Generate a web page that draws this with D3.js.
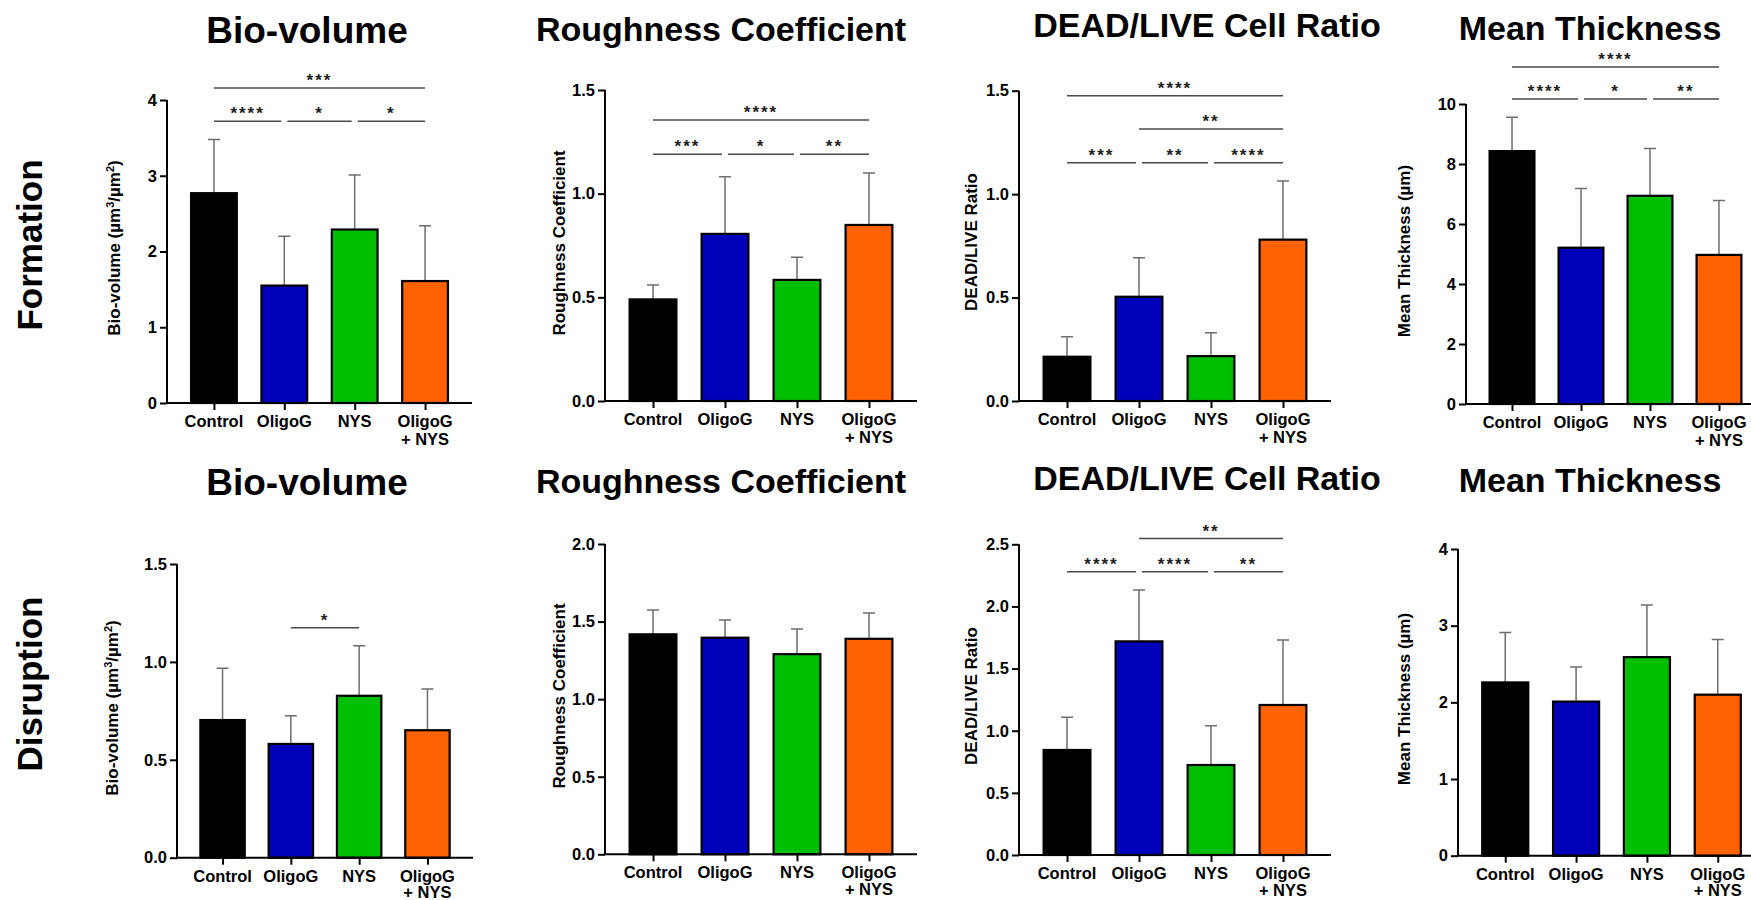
<!DOCTYPE html>
<html>
<head>
<meta charset="utf-8">
<script src="https://cdn.jsdelivr.net/npm/d3@7/dist/d3.min.js"></script>
<style>
  body { margin: 0; background: #fff; }
  svg text { font-family: "Liberation Sans", Arial, Helvetica, sans-serif; font-weight: bold; }
</style>
</head>
<body>
<div id="chart"></div>
<script>
// groups / colours
const groups = ['Control', 'OligoG', 'NYS', 'OligoG + NYS'];
const groupColors = ['#000000', '#0000bb', '#00bf00', '#ff6200'];

// Formation (mean, SD)
const bioFormMean = [2.77, 1.55, 2.29, 1.61];
const bioFormSd = [0.71, 0.65, 0.72, 0.73];
const roughFormMean = [0.49, 0.806, 0.584, 0.849];
const roughFormSd = [0.07, 0.276, 0.109, 0.251];
const deadFormMean = [0.214, 0.504, 0.217, 0.78];
const deadFormSd = [0.096, 0.189, 0.113, 0.283];
const thickFormMean = [8.43, 5.21, 6.94, 4.97];
const thickFormSd = [1.13, 1.97, 1.58, 1.81];

// Disruption
const bioDisMean = [0.703, 0.581, 0.827, 0.651];
const bioDisSd = [0.264, 0.144, 0.256, 0.211];
const roughDisMean = [1.418, 1.396, 1.29, 1.389];
const roughDisSd = [0.156, 0.114, 0.162, 0.166];
const deadDisMean = [0.845, 1.719, 0.724, 1.207];
const deadDisSd = [0.263, 0.413, 0.316, 0.523];
const thickDisMean = [2.26, 2.01, 2.59, 2.10];
const thickDisSd = [0.65, 0.45, 0.68, 0.72];

// significance brackets: [from group, to group, stars, height in data units]
const bioFormSig = [[0, 1, '****', 3.72], [1, 2, '*', 3.72], [2, 3, '*', 3.72], [0, 3, '***', 4.16]];
const roughFormSig = [[0, 1, '***', 1.19], [1, 2, '*', 1.19], [2, 3, '**', 1.19], [0, 3, '****', 1.355]];
const deadFormSig = [[0, 1, '***', 1.152], [1, 2, '**', 1.152], [2, 3, '****', 1.152], [1, 3, '**', 1.315], [0, 3, '****', 1.476]];
const thickFormSig = [[0, 1, '****', 10.17], [1, 2, '*', 10.17], [2, 3, '**', 10.17], [0, 3, '****', 11.23]];
const bioDisSig = [[1, 2, '*', 1.175]];
const roughDisSig = [];
const deadDisSig = [[0, 1, '****', 2.279], [1, 2, '****', 2.279], [2, 3, '**', 2.279], [1, 3, '**', 2.546]];
const thickDisSig = [];

// y tick values
const ticksBio4 = [0, 1, 2, 3, 4];
const ticks15 = [0, 0.5, 1.0, 1.5];
const ticks10 = [0, 2, 4, 6, 8, 10];
const ticks20 = [0, 0.5, 1.0, 1.5, 2.0];
const ticks25 = [0, 0.5, 1.0, 1.5, 2.0, 2.5];

const rowLabels = ['Formation', 'Disruption'];

// panel layout
const panels = [
  { title: 'Bio-volume', tSize: 37, tx: 307, ty: 43, ylab: 'bio', lx: 120, ly: 248,
    x0: 167, x1: 472, yTop: 100, y0: 403, ymax: 4, ticks: ticksBio4, fmt: 'd',
    mean: bioFormMean, sd: bioFormSd, sig: bioFormSig },
  { title: 'Roughness Coefficient', tSize: 34, tx: 721, ty: 41, ylab: 'Roughness Coefficient', lx: 565, ly: 243,
    x0: 605, x1: 917, yTop: 90, y0: 401, ymax: 1.5, ticks: ticks15, fmt: '.1f',
    mean: roughFormMean, sd: roughFormSd, sig: roughFormSig },
  { title: 'DEAD/LIVE Cell Ratio', tSize: 34, tx: 1207, ty: 37, ylab: 'DEAD/LIVE Ratio', lx: 977, ly: 242,
    x0: 1019, x1: 1331, yTop: 90.7, y0: 401, ymax: 1.5, ticks: ticks15, fmt: '.1f',
    mean: deadFormMean, sd: deadFormSd, sig: deadFormSig },
  { title: 'Mean Thickness', tSize: 34, tx: 1590, ty: 40, ylab: 'Mean Thickness (µm)', lx: 1410, ly: 251,
    x0: 1466, x1: 1765, yTop: 104, y0: 404, ymax: 10, ticks: ticks10, fmt: 'd',
    mean: thickFormMean, sd: thickFormSd, sig: thickFormSig },
  { title: 'Bio-volume', tSize: 37, tx: 307, ty: 495, ylab: 'bio', lx: 118, ly: 708,
    x0: 177, x1: 473, yTop: 564, y0: 857.7, ymax: 1.5, ticks: ticks15, fmt: '.1f',
    mean: bioDisMean, sd: bioDisSd, sig: bioDisSig },
  { title: 'Roughness Coefficient', tSize: 34, tx: 721, ty: 493, ylab: 'Roughness Coefficient', lx: 565, ly: 696,
    x0: 605, x1: 917, yTop: 544, y0: 854.3, ymax: 2, ticks: ticks20, fmt: '.1f',
    mean: roughDisMean, sd: roughDisSd, sig: roughDisSig },
  { title: 'DEAD/LIVE Cell Ratio', tSize: 34, tx: 1207, ty: 490, ylab: 'DEAD/LIVE Ratio', lx: 977, ly: 696,
    x0: 1019, x1: 1331, yTop: 544.3, y0: 855, ymax: 2.5, ticks: ticks25, fmt: '.1f',
    mean: deadDisMean, sd: deadDisSd, sig: deadDisSig },
  { title: 'Mean Thickness', tSize: 34, tx: 1590, ty: 492, ylab: 'Mean Thickness (µm)', lx: 1410, ly: 699,
    x0: 1458, x1: 1765, yTop: 549, y0: 855.7, ymax: 4, ticks: ticksBio4, fmt: 'd',
    mean: thickDisMean, sd: thickDisSd, sig: thickDisSig }
];

const svg = d3.select('#chart').append('svg')
  .attr('width', 1751)
  .attr('height', 900);

// row labels
svg.selectAll('.row-label')
  .data(rowLabels)
  .enter()
  .append('text')
  .attr('class', 'row-label')
  .attr('transform', (d, i) => `translate(42, ${i === 0 ? 245 : 684}) rotate(-90)`)
  .attr('text-anchor', 'middle')
  .style('font-size', '35px')
  .text(d => d);

panels.forEach(function(p) {
  const g = svg.append('g');

  const x = d3.scalePoint().domain(groups).range([p.x0, p.x1]).padding(0.667);
  const y = d3.scaleLinear().domain([0, p.ymax]).range([p.y0, p.yTop]);
  const bw = x.step() * 0.65;

  const rows = groups.map((name, i) => ({ name: name, mean: p.mean[i], sd: p.sd[i], color: groupColors[i] }));

  // title
  g.append('text')
    .attr('x', p.tx)
    .attr('y', p.ty)
    .attr('text-anchor', 'middle')
    .style('font-size', p.tSize + 'px')
    .text(p.title);

  // y label
  const yl = g.append('text')
    .attr('transform', `translate(${p.lx}, ${p.ly}) rotate(-90)`)
    .attr('text-anchor', 'middle')
    .style('font-size', '17px');
  if (p.ylab === 'bio') {
    yl.append('tspan').text('Bio-volume (µm');
    yl.append('tspan').attr('dy', -6).style('font-size', '11px').text('3');
    yl.append('tspan').attr('dy', 6).text('/µm');
    yl.append('tspan').attr('dy', -6).style('font-size', '11px').text('2');
    yl.append('tspan').attr('dy', 6).text(')');
  } else {
    yl.text(p.ylab);
  }

  // error bars (upper only)
  const err = g.append('g').attr('stroke', '#6e6e6e').attr('stroke-width', 1.5).attr('fill', 'none');
  err.selectAll('.eb')
    .data(rows)
    .enter()
    .append('path')
    .attr('d', d => {
      const cx = x(d.name), top = y(d.mean + d.sd);
      return `M${cx},${y(d.mean)}V${top}M${cx - 6},${top}H${cx + 6}`;
    });

  // bars
  g.selectAll('.bar')
    .data(rows)
    .enter()
    .append('rect')
    .attr('x', d => x(d.name) - bw / 2)
    .attr('y', d => y(d.mean))
    .attr('width', bw)
    .attr('height', d => p.y0 - y(d.mean))
    .attr('fill', d => d.color)
    .attr('stroke', '#000')
    .attr('stroke-width', 2.2);

  // y axis
  const yAxis = d3.axisLeft(y)
    .tickValues(p.ticks)
    .tickFormat(d3.format(p.fmt))
    .tickSize(7)
    .tickPadding(3);
  const ya = g.append('g')
    .attr('transform', `translate(${p.x0}, 0)`)
    .call(yAxis);
  ya.select('.domain').attr('d', `M0,${p.y0}V${p.yTop}`).attr('stroke-width', 2);
  ya.selectAll('.tick line').attr('stroke-width', 2);
  ya.selectAll('.tick text')
    .style('font-size', '16.5px')
    .attr('fill', '#000');

  // x axis
  const xAxis = d3.axisBottom(x).tickSize(7).tickFormat('');
  const xa = g.append('g')
    .attr('transform', `translate(0, ${p.y0})`)
    .call(xAxis);
  xa.select('.domain').attr('d', `M${p.x0 - 1},0H${p.x1}`).attr('stroke-width', 2);
  xa.selectAll('.tick line').attr('stroke-width', 2);

  const xl = g.selectAll('.xlab')
    .data(groups)
    .enter()
    .append('text')
    .attr('text-anchor', 'middle')
    .attr('x', d => x(d))
    .attr('y', p.y0 + 24)
    .style('font-size', '16.5px');
  xl.each(function(d) {
    const parts = d.split(' + ');
    const t = d3.select(this);
    t.append('tspan').attr('x', x(d)).text(parts[0]);
    if (parts.length > 1) {
      t.append('tspan').attr('x', x(d)).attr('dy', p.y0 > 800 ? 16.5 : 18).text('+ ' + parts[1]);
    }
  });

  // significance brackets
  p.sig.forEach(function(s) {
    const [a, b, label, v] = s;
    let xa1 = x(groups[a]);
    let xb1 = x(groups[b]);
    if (p.sig.some(o => o !== s && o[3] === v && o[1] === a)) xa1 += 3;
    if (p.sig.some(o => o !== s && o[3] === v && o[0] === b)) xb1 -= 3;
    const ly = y(v);
    g.append('line')
      .attr('x1', xa1)
      .attr('x2', xb1)
      .attr('y1', ly)
      .attr('y2', ly)
      .attr('stroke', '#4a4a4a')
      .attr('stroke-width', 1.5);
    g.append('text')
      .attr('x', (xa1 + xb1) / 2)
      .attr('y', ly - 2)
      .attr('text-anchor', 'middle')
      .attr('fill', '#222')
      .style('font-size', '17px')
      .style('letter-spacing', '2px')
      .text(label);
  });
});
</script>
</body>
</html>
